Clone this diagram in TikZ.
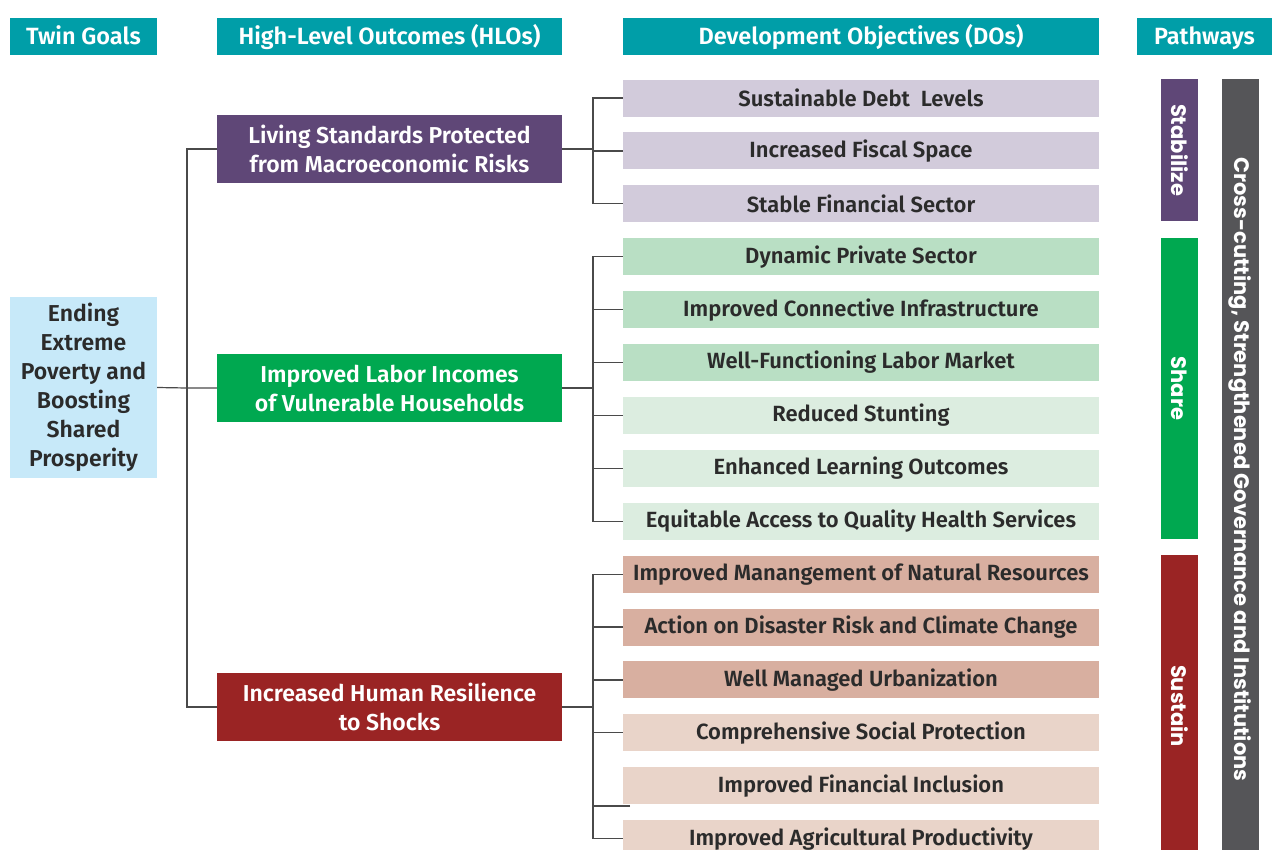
\documentclass[tikz,border=0pt]{standalone}
\usepackage{fontspec}
\setmainfont{Fira Sans}[BoldFont={* SemiBold}]
\newfontfamily\pathfont{Poppins}
\usetikzlibrary{positioning}
\definecolor{hdr}{HTML}{009EA8}
\definecolor{purp}{HTML}{5F4777}
\definecolor{purplt}{HTML}{D2CBDB}
\definecolor{grn}{HTML}{00A850}
\definecolor{grnlt}{HTML}{B9DFC4}
\definecolor{grnxl}{HTML}{DCEDE0}
\definecolor{rd}{HTML}{9A2424}
\definecolor{rdlt}{HTML}{D8AFA0}
\definecolor{rdxl}{HTML}{E9D4C9}
\definecolor{sky}{HTML}{C7E9F9}
\definecolor{gry}{HTML}{555558}
\definecolor{txt}{HTML}{2B2B2B}
\definecolor{ln}{HTML}{4A4A4A}

\begin{document}
\begin{tikzpicture}[x=1pt,y=-1pt,% styles for every box of the chart
      every node/.style={
        align=center,     % lets "\\" break the lines
        inner sep=0pt,
        font=\fontsize{22}{29}\selectfont\bfseries
      },
      head/.style={rectangle,fill=hdr,text=white,minimum height=37pt,
        text height=17pt,text depth=1pt,
        font=\fontsize{23.5}{29}\selectfont\bfseries},
      hlo/.style={rectangle,text=white,minimum width=345pt,minimum height=68pt,
        font=\fontsize{23}{29}\selectfont\bfseries},
      dobox/.style={rectangle,text=txt,minimum width=476pt,minimum height=37pt},
      bar/.style={rectangle,rotate=-90,text=white,minimum height=37pt,
        font=\fontsize{21}{24}\selectfont\pathfont\bfseries},
      link/.style={draw=ln,line width=1.2pt}
    ]
    \useasboundingbox (0,0) rectangle (1272,849);

    % column heads
    \node[head,minimum width=147pt](T1) at (83.5,36){Twin Goals};
    \node[head,minimum width=345pt](T2) at (389.5,36){High-Level Outcomes (HLOs)};
    \node[head,minimum width=476pt](T3) at (861,36){Development Objectives (DOs)};
    \node[head,minimum width=135pt](T4) at (1204.5,36){Pathways};

    \node[rectangle,fill=sky,text=txt,minimum width=147pt,minimum height=181pt,
      font=\fontsize{23}{29}\selectfont\bfseries](G) at (83.5,387.5)
      {Ending\\Extreme\\Poverty and\\Boosting\\Shared\\Prosperity};

    \node[hlo,fill=purp](H1) at (389.5,149){Living Standards Protected\\from Macroeconomic Risks};
    \node[hlo,fill=grn](H2) at (389.5,388){Improved Labor Incomes\\of Vulnerable Households};
    \node[hlo,fill=rd](H3) at (389.5,707){Increased Human Resilience\\to Shocks};

    \node[dobox,fill=purplt](D1) at (861,98){Sustainable Debt~~Levels};
    \node[dobox,fill=purplt](D2) at (861,150.9){Increased Fiscal Space};
    \node[dobox,fill=purplt](D3) at (861,203.8){Stable Financial Sector};
    \node[dobox,fill=grnlt](D4) at (861,256.7){Dynamic Private Sector};
    \node[dobox,fill=grnlt](D5) at (861,309.6){Improved Connective Infrastructure};
    \node[dobox,fill=grnlt](D6) at (861,362.5){Well-Functioning Labor Market};
    \node[dobox,fill=grnxl](D7) at (861,415.4){Reduced Stunting};
    \node[dobox,fill=grnxl](D8) at (861,468.3){Enhanced Learning Outcomes};
    \node[dobox,fill=grnxl](D9) at (861,521.2){Equitable Access to Quality Health Services};
    \node[dobox,fill=rdlt](D10) at (861,574.1){Improved Manangement of Natural Resources};
    \node[dobox,fill=rdlt](D11) at (861,627){Action on Disaster Risk and Climate Change};
    \node[dobox,fill=rdlt](D12) at (861,679.9){Well Managed Urbanization};
    \node[dobox,fill=rdxl](D13) at (861,732.8){Comprehensive Social Protection};
    \node[dobox,fill=rdxl](D14) at (861,785.7){Improved Financial Inclusion};
    \node[dobox,fill=rdxl](D15) at (861,838.6){Improved Agricultural Productivity};

    % pathways, read top to bottom
    \node[bar,fill=purp,minimum width=142pt](P1) at (1179.5,150){Stabilize};
    \node[bar,fill=grn,minimum width=301pt](P2) at (1179.5,388.5){Share};
    \node[bar,fill=rd,minimum width=302pt](P3) at (1179.5,706){Sustain};
    \node[bar,fill=gry,minimum width=781pt](P4) at (1240.5,469.5)
      {Cross-cutting, Strengthened Governance and Institutions};

    % tree lines
    \coordinate (J0) at (187,388);
    \coordinate (J1) at (593,149);
    \coordinate (J2) at (593,388);
    \coordinate (J3) at (593,707);
    \coordinate (S14) at (630,806);
    \draw[link] (G.east) -- (J0) -- (H2.west);
    \draw[link] (H1.west) -| (J0) |- (H3.west);
    \draw[link] (H1.east) -- (J1);
    \draw[link] (D1.west) -| (J1) |- (D3.west);
    \draw[link] (D2.west) -- (D2.west -| J1);
    \draw[link] (H2.east) -- (J2);
    \draw[link] (D4.west) -| (J2) |- (D9.west);
    \foreach \k in {5,...,8}
      \draw[link] (D\k.west) -- (D\k.west -| J2);
    \draw[link] (H3.east) -- (J3);
    \draw[link] (D10.west) -| (J3) |- (D15.west);
    \foreach \k in {11,12,13}
      \draw[link] (D\k.west) -- (D\k.west -| J3);
    \draw[link] (S14) -- (S14 -| J3);
\end{tikzpicture}
\end{document}
